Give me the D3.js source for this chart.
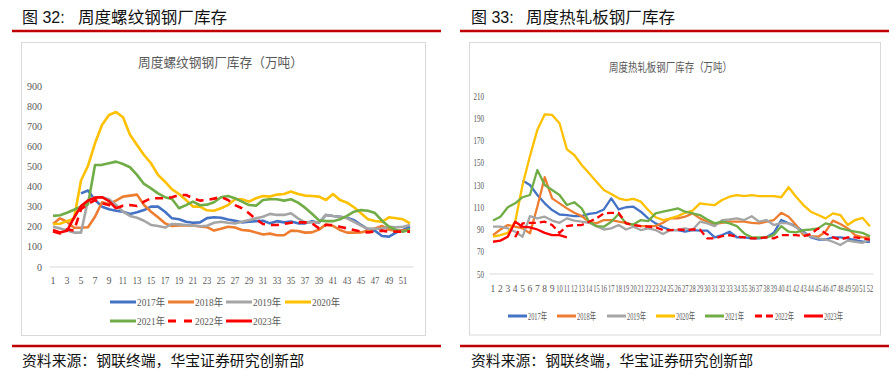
<!DOCTYPE html>
<html>
<head>
<meta charset="utf-8">
<script src="https://cdn.jsdelivr.net/npm/d3@7"></script>
<style>
  body { margin: 0; background: #fff; }
  svg { display: block; }
</style>
</head>
<body>
<svg id="chart" width="894" height="372"></svg>
<script>
const _ = null;
const weeks = d3.range(1, 53);
const yearNames = ['2017年', '2018年', '2019年', '2020年', '2021年', '2022年', '2023年'];
const yearColors = ['#4472C4', '#ED7D31', '#A5A5A5', '#FFC000', '#70AD47', '#FF0000', '#FF0000'];
const rebarTicks = [0, 100, 200, 300, 400, 500, 600, 700, 800, 900];
const hrcTicks = [50, 70, 90, 110, 130, 150, 170, 190, 210];

// 螺纹钢 周度钢厂库存（万吨）
const rebar2017 = [_, _, _, _, 366, 380, 333, 300, 287, 280, 275, 264, 272, 283, 300, 300, 275, 242, 237, 225, 220, 222, 243, 247, 245, 236,
  230, 222, 225, 228, 230, 217, 228, 222, 226, 217, 217, 228, 220, 259, 254, 250, 245, 233, 209, 187, 180, 154, 151, 171, 184, 200];
const rebar2018 = [214, 242, 225, 195, 195, 198, 250, 322, 313, 330, 350, 355, 360, 308, 275, 247, 217, 204, 206, 206, 206, 202, 198, 181, 190, 200,
  196, 184, 181, 171, 162, 166, 158, 158, 181, 179, 171, 172, 186, 212, 204, 184, 171, 171, 172, 181, 191, 204, 186, 181, 181, 186];
const rebar2019 = [200, 192, 181, 171, 171, 333, 347, 347, 337, 308, 275, 254, 245, 230, 209, 204, 196, 214, 212, 209, 206, 203, 205, 220, 225, 220,
  217, 225, 233, 242, 250, 264, 259, 259, 267, 242, 222, 222, 222, 259, 254, 250, 242, 225, 206, 191, 190, 191, 200, 197, 200, 209];
const rebar2020 = [214, 215, 228, 240, 430, 503, 615, 706, 756, 771, 745, 658, 607, 557, 516, 458, 424, 386, 363, 333, 300, 300, 282, 280, 292, 308,
  337, 337, 325, 342, 353, 350, 360, 363, 375, 363, 355, 353, 350, 333, 363, 333, 320, 297, 267, 237, 229, 225, 247, 242, 237, 217];
const rebar2021 = [254, 257, 270, 285, 300, 312, 507, 508, 516, 524, 512, 496, 458, 413, 391, 366, 347, 338, 292, 308, 325, 307, 310, 322, 347, 353,
  342, 325, 308, 305, 333, 337, 337, 330, 337, 320, 295, 265, 232, 228, 228, 237, 254, 275, 283, 280, 268, 230, 200, 184, 175, 188];
const rebar2022 = [176, 167, 187, 181, 287, 313, 333, 317, 308, 292, 305, 308, 303, 325, 342, 342, 342, 347, 358, 358, 342, 330, 333, 340, 348, 333,
  308, 292, 267, 237, 214, 209, 209, 214, 220, 222, 222, 217, 192, 209, 209, 200, 192, 184, 176, 172, 176, 181, 176, 176, 176, 176];
const rebar2023 = [184, 172, 180, 245, 303, 330, 345, 347, 328, 292];

// 热轧板 周度钢厂库存（万吨）
const hrc2017 = [_, _, _, _, 134, 130, 121, 113.5, 107.5, 103.5, 103, 102, 102, 104, 105, 108, 118, 108, 110, 110.5, 106, 100, 95.5, 92, 89.5, 89.5,
  88, 89.5, 89, 89, 83, 85, 88, 83, 83, 82, 82, 83, 87, 98.5, 95.5, 93, 88, 83, 81, 81, 83, 83, 82, 80.5, 79, 79];
const hrc2018 = [85, 90, 94, 92.5, 91, 86.5, 110.5, 137, 118, 113.5, 109, 105, 102, 97, 95.5, 98.5, 98.5, 97, 96, 94, 93, 93, 93, 96, 100, 100,
  101.5, 104.5, 100, 97, 95, 96, 97, 97, 97, 96, 95.5, 97, 98.5, 105, 101.5, 94, 85, 84, 83.5, 88, 98, 95, 91, 85, 83, 83];
const hrc2019 = [92.5, 92.5, 91, 88, 83.5, 102, 100, 101.5, 98, 96, 100, 98, 97, 96, 93, 90, 91, 94, 90, 92.5, 89.5, 91, 89.5, 86, 89.5, 89.5,
  91, 89.5, 97, 95.5, 93, 98.5, 99, 100, 98.5, 102, 97, 98.5, 94, 96, 95.5, 92, 87, 83.5, 82, 81, 79, 76, 80, 79, 78, 81];
const hrc2020 = [83.5, 85, 87, 97, 130, 156, 179.5, 193.5, 193, 185.5, 162, 157, 148, 140.5, 133, 125.5, 122, 118, 116.5, 117.5, 115, 107.5, 101, 98.5, 100, 102,
  105, 107, 113.5, 112.5, 112, 116.5, 119.5, 121, 120, 121, 120, 120, 120, 119, 128, 119.5, 112, 106, 103, 100, 104.5, 103, 94, 98.5, 100.5, 93];
const hrc2021 = [98, 101.5, 110, 113.5, 119, 121, 143.5, 130, 125.5, 121, 112, 114.5, 109, 97, 93, 92.5, 97, 104, 95.5, 94.5, 98.5, 97.5, 104.5, 106, 107.5, 109,
  106, 104.5, 103, 99, 95.5, 97, 95.5, 93, 86.5, 83, 83, 83, 85, 93, 88, 87.5, 89.5, 90, 91, 95.5, 94, 91, 89.5, 88, 87, 84];
const hrc2022 = [_, _, _, 83, 95.5, 96, 96, 97, 94, 87, 93, 94, 94, 97, 100, 104.5, 105, 105, 95.5, 94, 93, 92.5, 92, 89.5, 89.5, 90,
  89.5, 90, 90, 82, 82, 84, 85, 83.5, 83, 82, 82, 83, 82, 85, 85, 85, 84, 86, 91, 86.5, 83, 81, 83, 83, 82, 81];
const hrc2023 = [79, 80, 83.5, 97, 92.5, 92, 90, 87, 85, 85, 83];

const svg = d3.select('#chart');
svg.append('rect').attr('width', 894).attr('height', 372).attr('fill', '#fff');

const cjk = '"Noto Sans CJK SC", sans-serif';
const serif = '"Liberation Serif", "Times New Roman", "Noto Sans CJK SC", serif';

function drawPanel(p) {
  const g = svg.append('g');

  // 标题与红线
  g.append('text')
    .attr('x', p.headX).attr('y', 23)
    .style('font-family', '"Liberation Sans", Arial, "Noto Sans CJK SC", sans-serif')
    .style('font-size', '16px').attr('fill', '#111')
    .text(p.headNo);
  g.append('text')
    .attr('x', p.headCnX).attr('y', 23)
    .attr('textLength', 149).attr('lengthAdjust', 'spacingAndGlyphs')
    .style('font-family', cjk).style('font-size', '16px').attr('fill', '#111')
    .text(p.head);
  g.append('line')
    .attr('x1', p.lineX[0]).attr('x2', p.lineX[1]).attr('y1', 31).attr('y2', 31)
    .attr('stroke', '#C00000').attr('stroke-width', 2.6);
  g.append('line')
    .attr('x1', p.lineX[0]).attr('x2', p.lineX[1]).attr('y1', 346).attr('y2', 346)
    .attr('stroke', '#C00000').attr('stroke-width', 2.6);
  g.append('text')
    .attr('x', p.headX).attr('y', 366)
    .attr('textLength', 282).attr('lengthAdjust', 'spacingAndGlyphs')
    .style('font-family', cjk).style('font-size', '14.5px').attr('fill', '#111')
    .text('资料来源：钢联终端，华宝证券研究创新部');

  // 图表外框
  g.append('rect')
    .attr('x', p.box[0]).attr('y', p.box[1]).attr('width', p.box[2]).attr('height', p.box[3])
    .attr('fill', '#fff').attr('stroke', '#d9d9d9').attr('stroke-width', 1);

  g.append('text')
    .attr('x', p.titleX).attr('y', p.titleY)
    .attr('text-anchor', 'middle')
    .attr('textLength', p.titleLen).attr('lengthAdjust', 'spacingAndGlyphs')
    .style('font-family', cjk).style('font-size', p.titleSize + 'px').attr('fill', '#595959')
    .text(p.title);

  const x = d3.scaleBand().domain(weeks).range(p.xRange);
  const y = d3.scaleLinear().domain(p.yDomain).range(p.yRange);

  // y 轴刻度
  g.selectAll('.ylab')
    .data(p.ticks)
    .enter().append('text')
    .attr('class', 'ylab')
    .attr('x', p.yLabelX).attr('y', d => y(d)).attr('dy', '0.35em')
    .attr('text-anchor', 'end')
    .attr('textLength', d => p.squeeze ? String(d).length * 5 * p.squeeze : null)
    .attr('lengthAdjust', 'spacingAndGlyphs')
    .style('font-family', serif).style('font-size', '10px').attr('fill', '#595959')
    .text(d => d);

  // x 轴
  g.append('line')
    .attr('x1', p.xRange[0]).attr('x2', p.xRange[1])
    .attr('y1', y(p.yDomain[0])).attr('y2', y(p.yDomain[0]))
    .attr('stroke', '#d9d9d9').attr('stroke-width', 1.2);
  // 两位数标签横向压缩，避免重叠
  g.selectAll('.xlab')
    .data(weeks.filter((d, i) => i % p.xEvery === 0))
    .enter().append('text')
    .attr('class', 'xlab')
    .attr('transform', d => `translate(${x(d) + x.bandwidth() / 2}, ${p.xLabelY}) scale(${d >= 10 ? p.twoDigitScale : 1}, 1)`)
    .attr('dy', '0.35em')
    .attr('text-anchor', 'middle')
    .style('font-family', serif).style('font-size', p.xFont + 'px').attr('fill', '#595959')
    .text(d => d);

  // 折线
  const line = d3.line()
    .defined(d => d != null)
    .x((d, i) => x(weeks[i]) + x.bandwidth() / 2)
    .y(d => y(d));
  p.series.forEach((s, i) => {
    g.append('path')
      .datum(s)
      .attr('fill', 'none')
      .attr('stroke', yearColors[i])
      .attr('stroke-width', p.lw)
      .attr('stroke-linejoin', 'round')
      .attr('stroke-dasharray', i === 5 ? p.dash : null)
      .attr('d', line);
  });

  // 图例
  const lg = g.selectAll('.legend')
    .data(yearNames)
    .enter().append('g')
    .attr('class', 'legend')
    .attr('transform', (d, i) => `translate(${p.legend[i][0]}, ${p.legend[i][1]})`);
  lg.append('line')
    .attr('x1', 0).attr('x2', p.legendLine).attr('y1', 0).attr('y2', 0)
    .attr('stroke', (d, i) => yearColors[i])
    .attr('stroke-width', 3)
    .attr('stroke-dasharray', (d, i) => i === 5 ? p.legendDash : null);
  lg.append('text')
    .attr('x', p.legendLine + 1).attr('y', 0).attr('dy', '0.35em')
    .attr('textLength', p.legendText).attr('lengthAdjust', 'spacingAndGlyphs')
    .style('font-family', serif).style('font-size', '10.5px').attr('fill', '#595959')
    .text(d => d);
}

drawPanel({
  headNo: '图 32:', head: '周度螺纹钢钢厂库存', headX: 22, headCnX: 78, lineX: [12, 441],
  box: [21.5, 42.5, 404, 293],
  title: '周度螺纹钢钢厂库存（万吨）', titleX: 220.5, titleY: 67, titleSize: 13, titleLen: 165,
  xRange: [49.5, 413.5], yRange: [267, 86], yDomain: [0, 900], ticks: rebarTicks,
  yLabelX: 42, xLabelY: 280, xEvery: 2, twoDigitScale: 0.86, xFont: 10,
  series: [rebar2017, rebar2018, rebar2019, rebar2020, rebar2021, rebar2022, rebar2023],
  lw: 2.6, dash: '8,6',
  legend: [[110, 302], [168, 302], [226, 302], [285, 302], [110, 321], [168, 321], [226, 321]],
  legendLine: 26, legendText: 28, legendDash: '8,8'
});

drawPanel({
  headNo: '图 33:', head: '周度热轧板钢厂库存', headX: 471, headCnX: 526, lineX: [460, 889],
  box: [469.5, 42.5, 411, 292.5],
  title: '周度热轧板钢厂库存（万吨）', titleX: 670.5, titleY: 72, titleSize: 12, titleLen: 123,
  xRange: [489.3, 873.6], yRange: [274, 96], yDomain: [50, 210], ticks: hrcTicks,
  yLabelX: 484, xLabelY: 289, xEvery: 1, twoDigitScale: 0.68, xFont: 9.5, squeeze: 0.7,
  series: [hrc2017, hrc2018, hrc2019, hrc2020, hrc2021, hrc2022, hrc2023],
  lw: 2.3, dash: '7,4',
  legend: [[508, 316], [557, 316], [607, 316], [656, 316], [705, 316], [755, 316], [804, 316]],
  legendLine: 19, legendText: 19, legendDash: '7,4'
});
</script>
</body>
</html>
